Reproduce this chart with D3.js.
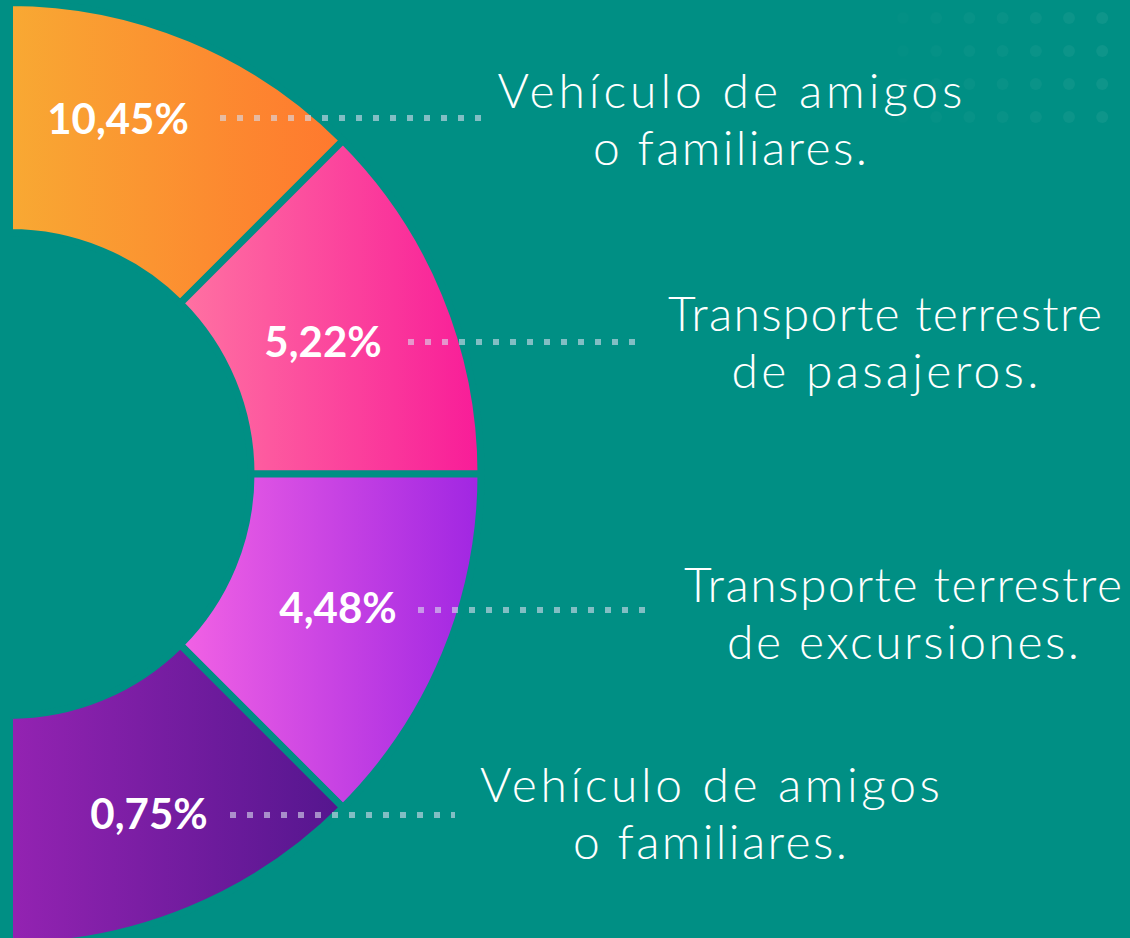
<!DOCTYPE html>
<html>
<head>
<meta charset="utf-8">
<script src="https://cdn.jsdelivr.net/npm/d3@7"></script>
<style>
  html, body { margin: 0; padding: 0; background: #008F84; }
  svg { display: block; }
</style>
</head>
<body>
<div id="plot"></div>
<script>
// chart data
const categories = ["Vehículo de amigos o familiares.", "Transporte terrestre de pasajeros.",
    "Transporte terrestre de excursiones.", "Vehículo de amigos o familiares."];
const labelLines = [["Vehículo de amigos", "o familiares."],
    ["Transporte terrestre", "de pasajeros."],
    ["Transporte terrestre", "de excursiones."],
    ["Vehículo de amigos", "o familiares."]];
const values = [10.45, 5.22, 4.48, 0.75];
const valueLabels = ["10,45%", "5,22%", "4,48%", "0,75%"];
const colorsFrom = ["#F8A933", "#FF72A2", "#F262E4", "#9423B2"];
const colorsTo = ["#FF782E", "#F81C98", "#A026E2", "#54168E"];

const w = 1130;
const h = 938;
const bg = "#008F84";
const cx = 9.5, cy = 474;
const outerR = 471.5, innerR = 241.5;

// layout of the labels (pixels)
const pctPos = [[118, 134], [323, 357], [338, 623], [149, 829]];
const dotLines = [[220, 482, 118], [408, 635, 342], [418, 645, 610], [230, 455, 815]];
const namePos = [[730, 108], [885, 331], [903, 602], [710, 802]];
const lineWidths = [[465, 274], [434, 307], [438, 352], [460, 274]];
const lineGap = 57;

const svg = d3.select("div#plot")
    .append("svg")
    .attr("width", w)
    .attr("height", h);

svg.append("rect")
    .attr("width", w)
    .attr("height", h)
    .attr("fill", bg);

// faint dot grid in the corner
const dotG = svg.append("g");
d3.range(7).forEach(i => {
  d3.range(4).forEach(j => {
    dotG.append("circle")
        .attr("cx", 903 + i * 33.2)
        .attr("cy", 18 + j * 33)
        .attr("r", 6)
        .attr("fill", "#ffffff")
        .attr("opacity", 0.012 + i * 0.007);
  });
});

const defs = svg.append("defs");
colorsFrom.forEach((c, i) => {
  const g = defs.append("linearGradient")
      .attr("id", "grad" + i)
      .attr("x1", "0%").attr("x2", "100%")
      .attr("y1", "0%").attr("y2", "0%");
  g.append("stop").attr("offset", "0%").attr("stop-color", c);
  g.append("stop").attr("offset", "100%").attr("stop-color", colorsTo[i]);
});

// each sector takes the same share of the half ring
const pie = d3.pie()
    .sort(null)
    .value(() => 1)
    .startAngle(0)
    .endAngle(Math.PI);

const arc = d3.arc()
    .innerRadius(innerR)
    .outerRadius(outerR);

svg.append("g")
    .attr("transform", `translate(${cx}, ${cy})`)
    .selectAll("path")
    .data(pie(values))
    .enter().append("path")
    .attr("d", arc)
    .attr("fill", (d, i) => `url(#grad${i})`)
    .attr("stroke", bg)
    .attr("stroke-width", 7);

// dotted leaders
svg.append("g")
    .selectAll("line")
    .data(dotLines)
    .enter().append("line")
    .attr("x1", d => d[0])
    .attr("x2", d => d[1])
    .attr("y1", d => d[2])
    .attr("y2", d => d[2])
    .attr("stroke", "#D8DDEE")
    .attr("stroke-opacity", 0.6)
    .attr("stroke-width", 6)
    .attr("stroke-dasharray", "6 11");

svg.append("g")
    .selectAll("text")
    .data(valueLabels)
    .enter().append("text")
    .attr("x", (d, i) => pctPos[i][0])
    .attr("y", (d, i) => pctPos[i][1])
    .attr("text-anchor", "middle")
    .style("font-family", "Lato, 'Open Sans', sans-serif")
    .style("font-weight", "700")
    .style("font-size", "42px")
    .style("fill", "white")
    .text(d => d);

// category names, two lines each
const nameData = [];
labelLines.forEach((lines, i) => {
  lines.forEach((t, j) => nameData.push({t: t, i: i, j: j}));
});

svg.append("g")
    .selectAll("text")
    .data(nameData)
    .enter().append("text")
    .attr("x", d => namePos[d.i][0])
    .attr("y", d => namePos[d.i][1] + d.j * lineGap)
    .attr("text-anchor", "middle")
    .attr("textLength", d => lineWidths[d.i][d.j])
    .attr("lengthAdjust", "spacing")
    .style("font-family", "Lato, 'Open Sans', sans-serif")
    .style("font-weight", "300")
    .style("font-size", "48px")
    .style("fill", "white")
    .text(d => d.t);
</script>
</body>
</html>
